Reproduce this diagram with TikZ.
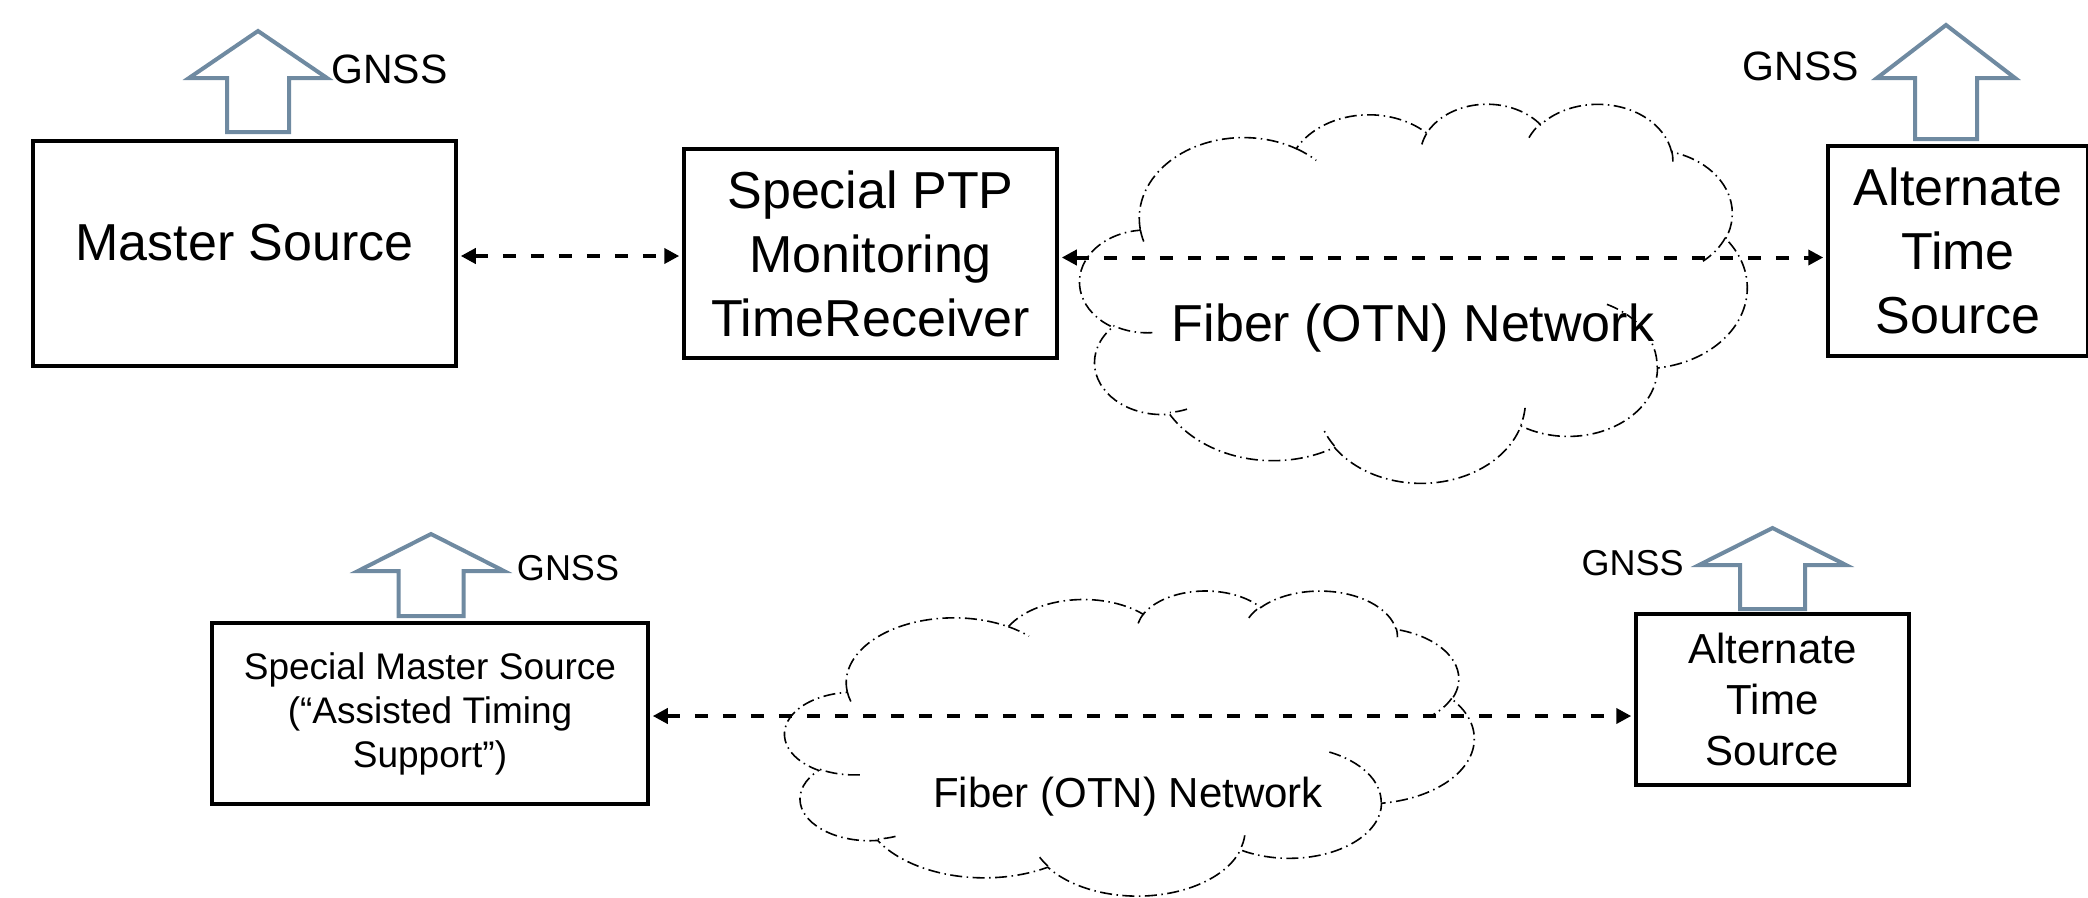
\documentclass[tikz,border=0pt]{standalone}
\usepackage{fontspec}
\setmainfont{Liberation Sans}
\usetikzlibrary{arrows.meta, positioning}
\definecolor{gnssblue}{RGB}{111,138,161}

\tikzset{
    srcbox/.style={draw, line width=4.5pt, align=center, inner sep=0pt},
    link/.style={line width=4pt, dash pattern=on 13pt off 15pt,
        >={Triangle[length=15pt,width=15pt]}, <->,
        shorten <=2.5pt, shorten >=2.5pt},
    gnss/.style={draw=gnssblue, line width=4pt, fill=white, line join=miter},
    gnsslabel/.style={anchor=base, inner sep=0pt},
    netlabel/.style={anchor=base, inner sep=0pt},
    cloudline/.style={line width=1.6pt, dash pattern=on 12pt off 4.5pt on 1.5pt off 4.5pt},
    cloudarc/.style n args={4}{insert path={arc[x radius=#1, y radius=#2,
        start angle={atan2(#1*sin(#3),#2*cos(#3))},
        delta angle={mod(atan2(#1*sin(#3+#4),#2*cos(#3+#4))-atan2(#1*sin(#3),#2*cos(#3))+720,360)}]}}
}

% up arrow: x, bottom, tip, head base, head half width, shaft half width
\newcommand\gnssarrow[6]{%
    \draw[gnss] (#1-#6,#2) -- (#1-#6,#4) -- (#1-#5,#4) -- (#1,#3)
        -- (#1+#5,#4) -- (#1+#6,#4) -- (#1+#6,#2) -- cycle;}

% cloud outline in a 432 x 432 box
\newcommand\fibercloud{%
    \draw[cloudline] (39.00,143.70)
        [cloudarc={67.53}{91.90}{-190.4875}{123.7805}]
        [cloudarc={53.33}{72.67}{-144.1024}{89.9452}]
        [cloudarc={43.65}{59.45}{-145.8079}{99.7230}]
        [cloudarc={48.57}{65.95}{-130.9861}{117.2417}]
        [cloudarc={53.33}{72.73}{-78.7089}{109.0269}]
        [cloudarc={67.75}{92.20}{-46.2673}{130.2690}]
        [cloudarc={57.85}{78.67}{0.6250}{114.0333}]
        [cloudarc={67.52}{92.15}{22.4516}{115.1726}]
        [cloudarc={77.20}{105.43}{66.2426}{75.7110}]
        [cloudarc={43.60}{59.18}{-274.9421}{146.7356}]
        [cloudarc={43.45}{59.45}{-246.8285}{152.5189}]
        -- cycle;
    \draw[cloudline]
        (46.93,261.77) [cloudarc={43.45}{59.45}{86.7420}{26.4295}]
        (69.28,348.99) [cloudarc={43.60}{59.18}{73.6105}{11.4475}]
        (164.78,390.90) [cloudarc={67.52}{92.15}{137.6242}{14.0811}]
        (288.27,347.51) [cloudarc={67.52}{92.15}{6.4533}{15.9984}]
        (341.29,229.54) [cloudarc={57.85}{78.67}{-70.2924}{70.9174}]
        (417.98,153.54) [cloudarc={53.33}{72.73}{30.3180}{27.7515}]
        (383.24,54.26) [cloudarc={48.57}{65.95}{-13.7443}{14.8589}]
        (290.78,39.52) [cloudarc={48.57}{65.95}{-149.1815}{18.1954}]
        (221.41,47.20) [cloudarc={43.65}{59.45}{-163.4943}{17.6864}]
        (140.00,51.92) [cloudarc={67.53}{91.90}{-66.7070}{12.3194}]
        (41.27,157.89) [cloudarc={67.53}{91.90}{157.6544}{11.8582}];
}

\begin{document}
\begin{tikzpicture}[x=1pt, y=-1pt]
    \useasboundingbox (0,0) rectangle (2088,897);

    % clouds
    \begin{scope}[shift={(1080,103)}, xscale=667/432, yscale=379/432]
        \fibercloud
    \end{scope}
    \begin{scope}[shift={(785,590)}, xscale=689/432, yscale=305/432]
        \fibercloud
    \end{scope}
    \node[netlabel, font=\fontsize{52}{64}\selectfont] (netA) at (1413,341) {Fiber (OTN) Network};
    \node[netlabel, font=\fontsize{42}{51}\selectfont] (netB) at (1128,807) {Fiber (OTN) Network};

    % GNSS arrows
    \gnssarrow{258}{132}{31}{78}{69}{31}
    \gnssarrow{1946}{139}{25}{78}{69}{31}
    \gnssarrow{431}{616}{534}{571}{73}{32.5}
    \gnssarrow{1772.5}{609}{528}{565}{73.5}{32.5}
    \node[gnsslabel, font=\fontsize{41}{50}\selectfont] (gA) at (389.5,83) {GNSS};
    \node[gnsslabel, font=\fontsize{41}{50}\selectfont] (gB) at (1801,80) {GNSS};
    \node[gnsslabel, font=\fontsize{36}{44}\selectfont] (gC) at (568,580) {GNSS};
    \node[gnsslabel, font=\fontsize{36}{44}\selectfont] (gD) at (1632.5,575) {GNSS};

    % boxes
    \node[srcbox, minimum width=423pt, minimum height=225pt, text depth=21.5pt,
        font=\fontsize{52}{64}\selectfont] (master) at (244.5,253.5) {Master Source};
    \node[srcbox, minimum width=373pt, minimum height=209pt,
        font=\fontsize{52}{64}\selectfont] (monitor) at (870.5,253.5)
        {Special PTP\\Monitoring\\TimeReceiver};
    \node[srcbox, minimum width=260pt, minimum height=210pt,
        font=\fontsize{52}{64}\selectfont] (alttop) at (1958,251)
        {Alternate\\Time\\Source};
    \node[srcbox, minimum width=436pt, minimum height=181pt,
        font=\fontsize{37}{44}\selectfont] (smaster) at (430,713.5)
        {Special Master Source\\(“Assisted Timing\\Support”)};
    \node[srcbox, minimum width=273pt, minimum height=171pt,
        font=\fontsize{42}{51}\selectfont] (altbot) at (1772.5,699.5)
        {Alternate\\Time\\Source};

    % links
    \draw[link] ([yshift=-2.5pt]master.east) -- ([yshift=-2.5pt]master.east -| monitor.west);
    \draw[link] ([yshift=-4pt]monitor.east) -- ([yshift=-4pt]monitor.east -| alttop.west);
    \draw[link] ([yshift=-2.5pt]smaster.east) -- ([yshift=-2.5pt]smaster.east -| altbot.west);
\end{tikzpicture}
\end{document}
